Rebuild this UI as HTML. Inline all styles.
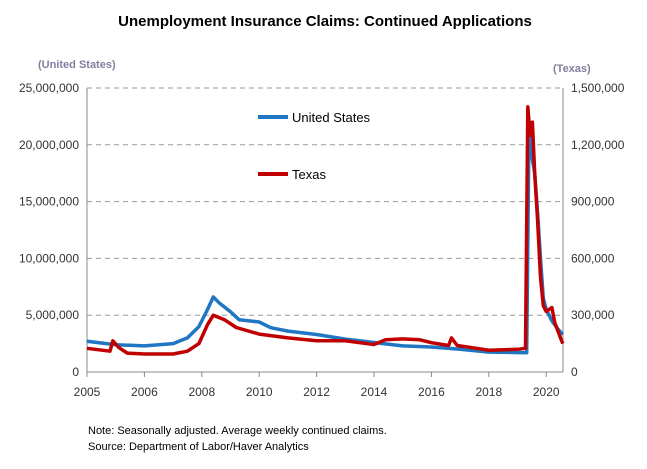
<!DOCTYPE html>
<html><head><meta charset="utf-8"><style>
body{margin:0;background:#fff;font-family:"Liberation Sans",Arial,sans-serif;}
svg text{font-family:"Liberation Sans",Arial,sans-serif;}
</style></head><body>
<svg id="chart" width="647" height="464" xmlns="http://www.w3.org/2000/svg">
<text x="325" y="26" text-anchor="middle" font-size="15" font-weight="bold" fill="#000">Unemployment Insurance Claims: Continued Applications</text>
<text x="38" y="68" font-size="11" font-weight="bold" fill="#8080a0">(United States)</text>
<text x="553" y="72" font-size="11" font-weight="bold" fill="#8080a0">(Texas)</text>
<g id="grid"></g><g id="axes"></g><g id="series"></g>
<g>
<line x1="258" y1="117" x2="288" y2="117" stroke="#1f77c4" stroke-width="4"/>
<text x="292" y="122" font-size="13" fill="#000">United States</text>
<line x1="258" y1="174" x2="288" y2="174" stroke="#c00000" stroke-width="4"/>
<text x="292" y="179" font-size="13" fill="#000">Texas</text>
</g>
<text x="88" y="434" font-size="11" fill="#000">Note: Seasonally adjusted. Average weekly continued claims.</text>
<text x="88" y="450" font-size="11" fill="#000">Source: Department of Labor/Haver Analytics</text>
</svg>
<script>
const xLabels=["2005","2006","2008","2010","2012","2014","2016","2018","2020"];
const leftTicks=[0,5000000,10000000,15000000,20000000,25000000];
const rightTicks=[0,300000,600000,900000,1200000,1500000];
const usT=[0,0.5,1.0,1.5,1.75,1.95,2.1,2.2,2.3,2.5,2.65,3.0,3.2,3.5,4.0,4.5,5.0,5.5,6.0,6.5,7.0,7.66,7.7,7.75,7.8,7.85,7.9,7.95,8.0,8.1,8.2,8.29];
const usV=[2.7,2.4,2.3,2.5,3.0,4.0,5.5,6.6,6.1,5.3,4.6,4.4,3.9,3.6,3.3,2.9,2.6,2.3,2.2,2.0,1.75,1.7,21.5,19,17.5,14,10,6.5,5.5,4.5,3.8,3.3].map(v=>v*1e6);
const txT=[0,0.4,0.45,0.55,0.7,1.0,1.5,1.75,1.95,2.1,2.2,2.4,2.6,3.0,3.5,4.0,4.5,5.0,5.2,5.5,5.8,6.0,6.3,6.35,6.45,7.0,7.5,7.64,7.68,7.72,7.76,7.8,7.85,7.9,7.95,8.0,8.1,8.15,8.25,8.29];
const txV=[125,110,165,130,100,95,95,110,150,250,300,275,235,200,180,165,165,145,170,175,170,155,140,180,140,115,120,125,1400,1250,1320,1050,800,500,350,320,340,260,180,150].map(v=>v*1000);
const X0=87,X1=563,Y0=372,Y1=88,STEP=57.4;
const xs=t=>X0+t*STEP;
const yL=v=>Y0-(v/25000000)*(Y0-Y1);
const yR=v=>Y0-(v/1500000)*(Y0-Y1);
const NS="http://www.w3.org/2000/svg";
function mk(tag,attrs,parent,txt){const e=document.createElementNS(NS,tag);for(const k in attrs)e.setAttribute(k,attrs[k]);if(txt!==undefined)e.textContent=txt;parent.appendChild(e);return e;}
const grid=document.getElementById('grid'),axes=document.getElementById('axes'),ser=document.getElementById('series');
leftTicks.forEach((v,i)=>{
 const y=yL(v);
 if(v>0){const g=mk('line',{x1:X0,x2:X1,y1:y,y2:y,stroke:'#999','stroke-dasharray':'5,4','stroke-width':1},grid);
 
 }
 const t=mk('text',{x:X0-8,y:y+4,'text-anchor':'end','font-size':12,fill:'#333'},axes,v.toLocaleString('en-US'));
 
 
});
rightTicks.forEach(v=>{
 const t=mk('text',{x:X1+8,y:yR(v)+4,'font-size':12,fill:'#333'},axes,v.toLocaleString('en-US'));
 
 
});
mk('line',{x1:X0,x2:X0,y1:Y1,y2:Y0,stroke:'#888'},axes);
mk('line',{x1:X1,x2:X1,y1:Y1,y2:Y0,stroke:'#888'},axes);
mk('line',{x1:X0,x2:X1,y1:Y0,y2:Y0,stroke:'#888'},axes);
xLabels.forEach((l,i)=>{
 mk('line',{x1:xs(i),x2:xs(i),y1:Y0,y2:Y0+5,stroke:'#888'},axes);
 const t=mk('text',{x:xs(i),y:Y0+24,'text-anchor':'middle','font-size':12,fill:'#333'},axes,l);
 
 
});
function line(T,V,yf,color,name){
 const d=T.map((t,i)=>(i?'L':'M')+xs(t).toFixed(1)+','+yf(V[i]).toFixed(1)).join('');
 const p=mk('path',{d:d,fill:'none',stroke:color,'stroke-width':3.5,'stroke-linejoin':'round'},ser);
 
 
}
line(usT,usV,yL,'#1f77c4','us-line');
line(txT,txV,yR,'#c00000','texas-line');
</script>
</body></html>
